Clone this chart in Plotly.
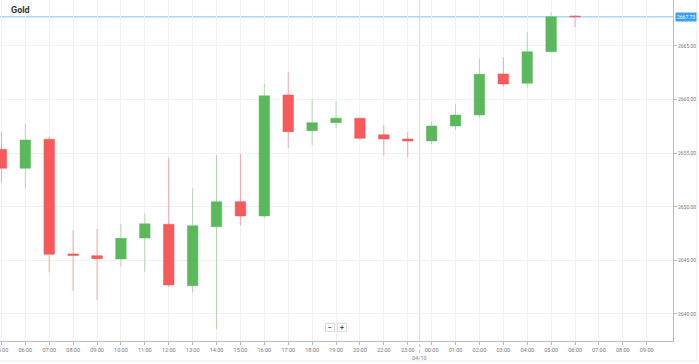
import plotly.graph_objects as go

tick_labels = ["05:00", "06:00", "07:00", "08:00", "09:00", "10:00", "11:00", "12:00",
               "13:00", "14:00", "15:00", "16:00", "17:00", "18:00", "19:00", "20:00",
               "22:00", "23:00", "00:00", "01:00", "02:00", "03:00", "04:00", "05:00",
               "06:00", "07:00", "08:00", "09:00"]

opens = [2655.36, 2653.59, 2656.30, 2645.60, 2645.44, 2645.13, 2647.09, 2648.37, 2642.64,
         2648.14, 2650.48, 2649.14, 2660.43, 2657.10, 2657.85, 2658.26, 2656.73, 2656.32,
         2656.14, 2657.54, 2658.56, 2662.39, 2661.52, 2664.47, 2667.80]
highs = [2657.00, 2657.79, 2656.60, 2647.84, 2647.93, 2648.40, 2649.39, 2654.58, 2651.73,
         2654.83, 2654.93, 2661.46, 2662.57, 2660.06, 2659.87, 2658.30, 2657.63, 2656.95,
         2657.94, 2659.56, 2663.85, 2663.95, 2666.28, 2668.14, 2667.85]
lows = [2652.25, 2651.73, 2643.89, 2642.17, 2641.31, 2644.41, 2643.95, 2642.49, 2641.99,
        2638.57, 2648.24, 2648.93, 2655.46, 2655.76, 2657.32, 2656.23, 2654.77, 2654.62,
        2655.83, 2657.16, 2658.35, 2661.20, 2661.05, 2664.40, 2666.74]
closes = [2653.59, 2656.23, 2645.57, 2645.46, 2645.16, 2647.06, 2648.42, 2642.71, 2648.24,
          2650.48, 2649.14, 2660.36, 2657.01, 2657.85, 2658.26, 2656.39, 2656.32, 2656.14,
          2657.54, 2658.56, 2662.36, 2661.46, 2664.47, 2667.73, 2667.73]

current_price = 2667.73
day_label = "04/10"
day_break = 17.5
title = "Gold"

x_idx = list(range(len(opens)))
tick_pos = list(range(len(tick_labels)))

GREEN = "#5cb85c"
RED = "#f65a5a"

fig = go.Figure()
fig.add_trace(go.Candlestick(
    x=x_idx, open=opens, high=highs, low=lows, close=closes,
    increasing=dict(fillcolor=GREEN, line=dict(color="rgba(92,184,92,0.45)", width=1)),
    decreasing=dict(fillcolor=RED, line=dict(color="rgba(246,90,90,0.5)", width=1)),
    showlegend=False, hoverinfo="skip",
))

# current price line
fig.add_shape(type="line", xref="paper", x0=0, x1=1, yref="y", y0=current_price, y1=current_price,
              line=dict(color="rgba(100,180,240,0.55)", width=1.5), layer="below")
fig.add_annotation(xref="paper", x=1, xanchor="left", xshift=2, yref="y", y=current_price,
                   text=f"{current_price:.2f}", showarrow=False,
                   font=dict(family="Roboto", size=5, color="white"),
                   bgcolor="#3a9ff0", borderpad=1)

# day separator
fig.add_shape(type="line", xref="x", x0=day_break, x1=day_break, yref="paper", y0=0, y1=1,
              line=dict(color="#dcdcdc", width=1), layer="below")
fig.add_shape(type="line", xref="x", x0=day_break, x1=day_break, yref="paper", y0=-0.035, y1=0,
              line=dict(color="#bbbbbb", width=1, dash="dot"))
fig.add_annotation(xref="x", x=day_break, yref="paper", y=-0.036, yanchor="top",
                   text=day_label, showarrow=False,
                   font=dict(family="Roboto", size=5.5, color="#888"))

# title
fig.add_annotation(xref="paper", x=9 / 673, xanchor="left", yref="paper", y=1 - 10 / 341,
                   yanchor="middle", text=f"<b>{title}</b>", showarrow=False,
                   font=dict(family="Roboto", size=9, color="#333"))

# zoom buttons
for txt, px in [("−", 330), ("+", 342)]:
    fig.add_annotation(xref="paper", x=px / 673, yref="paper", y=1 - 332 / 341,
                       text=f"<b>{txt}</b>", showarrow=False, width=8, height=7,
                       font=dict(family="Roboto", size=7, color="#444"),
                       bgcolor="white", bordercolor="#ddd", borderwidth=1, borderpad=0)

# outer frame (right & bottom)
fig.add_shape(type="line", xref="paper", yref="paper", x0=697 / 673, x1=697 / 673,
              y0=1 - 361 / 341, y1=1, line=dict(color="#ececec", width=1))
fig.add_shape(type="line", xref="paper", yref="paper", x0=0, x1=697 / 673,
              y0=1 - 361 / 341, y1=1 - 361 / 341, line=dict(color="#ececec", width=1))

fig.update_layout(
    width=699, height=364,
    margin=dict(l=0, r=26, t=0, b=23, autoexpand=False),
    paper_bgcolor="white", plot_bgcolor="white",
    boxgap=0.37,
    font=dict(family="Roboto", size=5.5, color="#777"),
    xaxis=dict(
        type="linear", range=[-0.06, 28.1], rangeslider=dict(visible=False),
        tickmode="array", tickvals=tick_pos, ticktext=tick_labels,
        showgrid=True, gridcolor="#f2f2f2", gridwidth=1,
        showline=True, linecolor="#bbb", linewidth=1,
        ticks="outside", ticklen=3, tickcolor="#bbb",
        tickfont=dict(family="Roboto", size=5.5, color="#777"),
        ticklabeloverflow="allow",
        zeroline=False, fixedrange=True, automargin=False,
    ),
    yaxis=dict(
        side="right", range=[2637.48, 2669.29],
        tickmode="linear", tick0=2640, dtick=5, tickformat=".2f",
        showgrid=True, gridcolor="#f2f2f2", gridwidth=1,
        showline=True, linecolor="#bbb", linewidth=1,
        ticks="outside", ticklen=3, tickcolor="#bbb",
        tickfont=dict(family="Roboto", size=5, color="#777"),
        zeroline=False, fixedrange=True, automargin=False,
    ),
)

fig.write_html("out.html", config={"displayModeBar": False},
               post_script="document.body.style.margin='0';document.body.style.padding='0';")
